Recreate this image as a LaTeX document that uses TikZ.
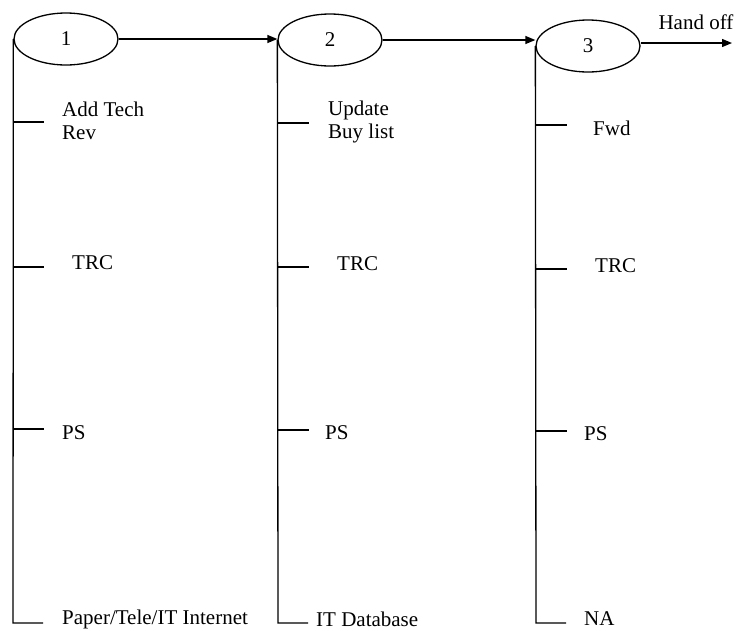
\documentclass[tikz,border=0pt]{standalone}
\usepackage{fontspec}
\setmainfont{Liberation Serif}
\usetikzlibrary{shapes.geometric,arrows.meta}
\begin{document}
\begin{tikzpicture}[x=1pt,y=-1pt,
  every node/.style={font=\fontsize{21}{22.5}\selectfont, inner sep=0pt},
  ell/.style={draw, ellipse, line width=1.3pt, minimum width=104pt, minimum height=52pt},
  ln/.style={line width=1.3pt},
  arr/.style={line width=1.3pt, -{Triangle[length=10pt,width=8pt]}},
  lbl/.style={anchor=west, align=left}]
\useasboundingbox (0,0) rectangle (737,630);
% process ellipses
\node[ell] (e1) at (66,39) {1};
\node[ell] (e2) at (330,40) {2};
\node[ell] (e3) at (588,46) {3};
% flow arrows
\draw[arr] (e1.east) -- (e1.east -| e2.west);
\draw[arr] (e2.east) -- (e2.east -| e3.west);
\coordinate (hend) at (732,43);
\draw[arr] (e3.east |- hend) -- (hend);
\node (hand) at (696,22) {Hand off};
% column corners
\coordinate (b1) at (13,623);
\coordinate (b2) at (278,623);
\coordinate (b3) at (536,623);
\draw[ln] (e1.west) -- (b1) -- ++(30,0);
\draw[ln] (e2.west) -- (b2) -- ++(30,0);
\draw[ln] (e3.west) -- (b3) -- ++(30,0);
% ticks column 1
\coordinate (a1) at (13,122);
\coordinate (a2) at (13,267);
\coordinate (a3) at (13,429);
\draw[ln] (a1) -- ++(31,0);
\draw[ln] (a2) -- ++(31,0);
\draw[ln] (a3) -- ++(31,0);
% ticks column 2
\coordinate (m1) at (278,123);
\coordinate (m2) at (278,267);
\coordinate (m3) at (278,430);
\draw[ln] (m1) -- ++(31,0);
\draw[ln] (m2) -- ++(31,0);
\draw[ln] (m3) -- ++(31,0);
% ticks column 3
\coordinate (r1) at (536,125);
\coordinate (r2) at (536,269);
\coordinate (r3) at (536,431);
\draw[ln] (r1) -- ++(31,0);
\draw[ln] (r2) -- ++(31,0);
\draw[ln] (r3) -- ++(31,0);
% labels column 1
\node[lbl] (l11) at (62,121) {Add Tech\\Rev};
\node[lbl] (l12) at (72,263) {TRC};
\node[lbl] (l13) at (62,433) {PS};
\node[lbl] (l14) at (62,619) {Paper/Tele/IT Internet};
% labels column 2
\node[lbl] (l21) at (328,122) {Update\\Buy list};
\node[lbl] (l22) at (337,264) {TRC};
\node[lbl] (l23) at (325,433) {PS};
\node[lbl] (l24) at (316,619) {IT Database};
% labels column 3
\node[lbl] (l31) at (593,128) {Fwd};
\node[lbl] (l32) at (595,266) {TRC};
\node[lbl] (l33) at (584,434) {PS};
\node[lbl] (l34) at (584,619) {NA};
\end{tikzpicture}
\end{document}
